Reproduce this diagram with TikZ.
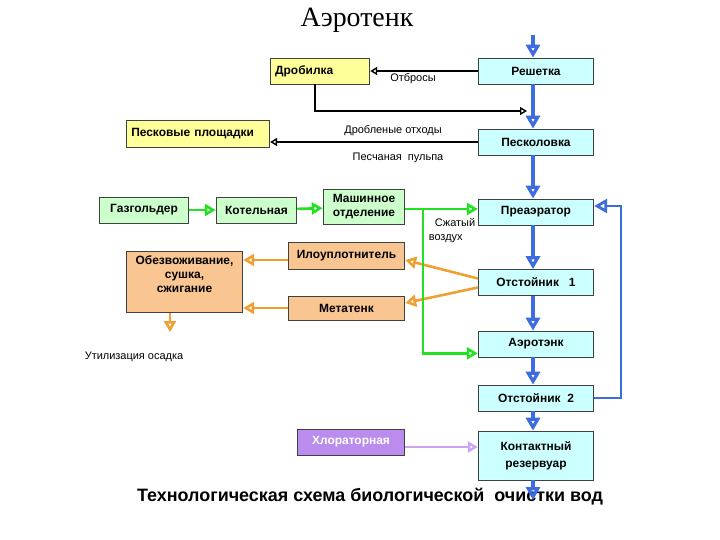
\documentclass[tikz,border=0pt]{standalone}
\usepackage{fontspec}
\setmainfont{Liberation Sans}
\newfontfamily\serifttl{Liberation Serif}
\usetikzlibrary{arrows.meta,positioning,calc}
\definecolor{yelfill}{HTML}{FFFF99}
\definecolor{cyanfill}{HTML}{CCFFFF}
\definecolor{greenfill}{HTML}{CCFFCC}
\definecolor{orangefill}{HTML}{F9C591}
\definecolor{violetfill}{HTML}{B98CEE}
\definecolor{flowblue}{HTML}{3D6BE0}
\definecolor{flowgreen}{HTML}{22E022}
\definecolor{floworange}{HTML}{F0A030}
\definecolor{flowviolet}{HTML}{CBA4F4}
\tikzstyle{block} = [rectangle, draw=black!75, line width=0.8pt, align=center,
    font=\bfseries\fontsize{12}{14}\selectfont, inner sep=2pt]
\tikzstyle{yblock} = [block, fill=yelfill, minimum height=26]
\tikzstyle{cblock} = [block, fill=cyanfill, minimum width=116, minimum height=26]
\tikzstyle{gblock} = [block, fill=greenfill, minimum height=26]
\tikzstyle{oblock} = [block, fill=orangefill, minimum width=117]
\tikzstyle{vblock} = [block, fill=violetfill, text=white, minimum height=26]
\tikzstyle{lbl} = [font=\fontsize{11}{14}\selectfont, inner sep=1pt]
\tikzstyle{blueline} = [draw=flowblue, line width=3.6pt, -{Triangle[open,length=13pt,width=14pt]}]
\tikzstyle{blackline} = [draw, line width=1.4pt, -{Triangle[open,length=7pt,width=8pt]}]
\tikzstyle{greenline} = [draw=flowgreen, line width=2.6pt, -{Triangle[open,length=11pt,width=12pt]}]
\tikzstyle{orangeline} = [draw=floworange, line width=2.6pt, -{Triangle[open,length=11pt,width=12pt]}]
\tikzstyle{violetline} = [draw=flowviolet, line width=2.4pt, -{Triangle[open,length=10pt,width=11pt]}]

\begin{document}
\begin{tikzpicture}[x=1bp, y=-1bp]
	\useasboundingbox (0,0) rectangle (720,540);
	% Titles
	\node [font=\serifttl\fontsize{28}{32}\selectfont] (title) at (357,20) {Аэротенк};
	\node [font=\bfseries\fontsize{18}{21}\selectfont] (caption) at (370,497) {Технологическая схема биологической\ \ очистки вод};
	% Main line
	\node [cblock] (resh) at (536,71) {Решетка};
	\node [cblock] (peskol) at (536,142) {Песколовка};
	\node [cblock] (preaer) at (536,212) {Преаэратор};
	\node [cblock] (ots1) at (536,282.5) {Отстойник\ \ \ 1};
	\node [cblock] (aero) at (536,344) {Аэротэнк};
	\node [cblock] (ots2) at (536,398) {Отстойник\ \ 2};
	\node [cblock, minimum height=49, font=\bfseries\fontsize{12}{17}\selectfont] (kont) at (536,455.5) {Контактный\\резервуар};
	% Side units
	\node [yblock, minimum width=100, text width=90, align=left] (drob) at (320,71) {Дробилка};
	\node [yblock, minimum width=144, minimum height=27, text width=134, align=left] (peskpl) at (198,133.5) {Песковые площадки};
	\node [gblock, minimum width=90] (gaz) at (144,210) {Газгольдер};
	\node [gblock, minimum width=81] (kotel) at (256.5,210) {Котельная};
	\node [gblock, minimum width=82, minimum height=35, font=\bfseries\fontsize{12}{14}\selectfont] (mash) at (364,207) {Машинное\\отделение};
	\node [oblock, minimum height=27] (ilo) at (346.5,256) {Илоуплотнитель};
	\node [oblock, minimum height=24] (meta) at (346.5,308) {Метатенк};
	\node [oblock, minimum height=62, font=\bfseries\fontsize{12}{14}\selectfont] (obez) at (184.5,282) {Обезвоживание,\\сушка,\\сжигание\\[1bp]};
	\node [vblock, minimum width=108] (hlor) at (351,442) {Хлораторная};
	% Labels
	\node [lbl] (otbr) at (413,79) {Отбросы};
	\node [lbl] (droth) at (393,131) {Дробленые отходы};
	\node [lbl] (pulpa) at (398,158) {Песчаная\ \ пульпа};
	\node [lbl, align=left] (air) at (452,231) {\hspace{6bp}Сжатый\\воздух};
	\node [lbl] (util) at (134,357) {Утилизация осадка};
	% Coordinates
	\coordinate (intop) at (533,35);
	\coordinate (outbot) at (533,500);
	\coordinate (crush) at (527,111);
	\coordinate (fb) at (621,206);
	\coordinate (split) at (423,209);
	\coordinate (sludge) at (170,332);
	% Blue flow
	\path [blueline] (intop) -- (intop |- resh.north);
	\path [blueline] (intop |- resh.south) -- (intop |- peskol.north);
	\path [blueline] (intop |- peskol.south) -- (intop |- preaer.north);
	\path [blueline] (intop |- preaer.south) -- (intop |- ots1.north);
	\path [blueline] (intop |- ots1.south) -- (intop |- aero.north);
	\path [blueline] (intop |- aero.south) -- (intop |- ots2.north);
	\path [blueline] (intop |- ots2.south) -- (intop |- kont.north);
	\path [blueline] (intop |- kont.south) -- (outbot);
	\path [blueline, line width=2.8pt] (ots2.east) -| (fb) -- (fb -| preaer.east);
	% Black flow
	\path [blackline] (resh.west) -- (drob.east);
	\path [blackline] ([xshift=-5bp]drob.south) |- (crush);
	\path [blackline] (peskol.west) -- (peskol.west -| peskpl.east);
	% Orange flow
	\path [orangeline] ($(ots1.west)+(0,-4)$) -- ($(ilo.east)+(0,4)$);
	\path [orangeline] ($(ots1.west)+(0,5)$) -- ($(meta.east)+(0,-5)$);
	\path [orangeline] ($(ilo.west)+(0,4)$) -- ($(obez.east |- ilo.west)+(0,4)$);
	\path [orangeline] (meta.west) -- (meta.west -| obez.east);
	\path [orangeline] (obez.south -| sludge) -- (sludge);
	% Green flow
	\path [greenline] (gaz) -- (kotel);
	\path [greenline] (kotel) -- (mash);
	\path [greenline] (mash.east |- split) -- (split -| preaer.west);
	\path [greenline] (split) |- ($(aero.south west)+(0,-4)$);
	% Violet flow
	\path [violetline] ($(hlor.east)+(0,5)$) -- ($(hlor.east -| kont.west)+(0,5)$);
\end{tikzpicture}
\end{document}
